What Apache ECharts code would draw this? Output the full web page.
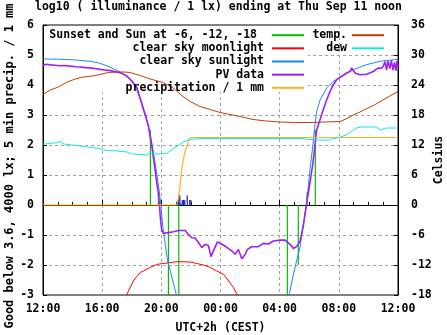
<!DOCTYPE html>
<html><head><meta charset="utf-8">
<script src="https://cdn.jsdelivr.net/npm/echarts@6/dist/echarts.min.js"></script>
<style>html,body{margin:0;padding:0;background:#fff}#c{width:447px;height:335px}</style>
</head><body><div id="c"></div>
<script>
// ---- data (x = hours after 12:00 on Sep 10, UTC+2h) ----
const xTickLabels = ['12:00','16:00','20:00','00:00','04:00','08:00','12:00'];
const twilightHours  = [7.26, 7.80, 8.48, 9.18, 16.52, 17.26, 17.85, 18.41];
const twilightLevels = [2.5, 0.42, -3.5, -3.5, -3.5, -2.0, 0.42, 2.5];
const moonData = [[5.58,-3.1],[5.67,-2.98],[6.11,-2.53],[6.57,-2.25],[6.79,-2.2],[7.24,-2.08],[7.7,-1.98],[8.12,-1.95],[8.59,-1.92],[9.05,-1.89],[9.47,-1.89],[9.95,-1.9],[10.4,-1.95],[10.85,-2.0],[11.3,-2.08],[11.75,-2.2],[12.2,-2.31],[12.51,-2.5],[12.87,-2.75],[13.1,-2.95],[13.15,-3.1]];
const sunData = [[0,4.87],[1.0,4.86],[2.06,4.84],[3.19,4.79],[3.8,4.73],[4.32,4.64],[4.99,4.49],[5.55,4.34],[6.01,4.12],[6.34,3.84],[6.68,3.4],[6.97,2.95],[7.24,2.4],[7.47,1.73],[7.65,1.18],[7.82,0.6],[7.97,0.0],[8.1,-0.72],[8.26,-1.3],[8.41,-1.83],[8.71,-2.4],[9.0,-2.96],[9.14,-3.2],[12,'-'],
  [16.5,-3.2],[16.66,-2.96],[16.89,-2.4],[17.16,-1.83],[17.38,-1.4],[17.58,-0.7],[17.83,0.09],[18.05,1.19],[18.24,1.97],[18.39,2.7],[18.52,3.15],[18.73,3.5],[19.18,3.9],[19.63,4.12],[20.3,4.34],[20.98,4.51],[21.88,4.68],[22.78,4.79],[23.68,4.84],[24,4.86]];
const pvData = [[0,4.66],[0.25,4.69],[0.49,4.67],[0.8,4.66],[1.16,4.64],[1.5,4.65],[1.84,4.63],[2.2,4.61],[2.51,4.6],[2.9,4.58],[3.19,4.57],[3.5,4.55],[3.86,4.52],[4.2,4.5],[4.54,4.48],[5.01,4.43],[5.35,4.38],[5.69,4.29],[6.03,4.12],[6.36,3.9],[6.57,3.55],[6.79,3.18],[6.97,2.9],[7.13,2.62],[7.36,1.95],[7.47,1.55],[7.58,1.17],[7.7,0.7],[7.8,0.41],[7.87,0.0],[7.95,-0.5],[8.03,-0.85],[8.14,-0.94],[8.48,-0.92],[8.82,-0.89],[9.16,-0.85],[9.61,-0.85],[9.83,-0.98],[10.06,-1.09],[10.28,-1.1],[10.51,-1.25],[10.74,-1.42],[10.96,-1.31],[11.18,-1.35],[11.36,-1.72],[11.52,-1.53],[11.79,-1.23],[12.09,-1.31],[12.43,-1.41],[12.76,-1.53],[12.99,-1.64],[13.21,-1.48],[13.44,-1.79],[13.66,-1.65],[13.82,-1.48],[14.11,-1.39],[14.56,-1.39],[14.9,-1.28],[15.24,-1.3],[15.57,-1.2],[16.03,-1.17],[16.36,-1.17],[16.48,-1.14],[16.7,-1.31],[16.93,-1.45],[17.16,-1.38],[17.38,-1.2],[17.6,-0.7],[17.83,0.08],[18.05,0.75],[18.25,1.4],[18.39,2.0],[18.5,2.5],[18.73,2.84],[18.95,3.18],[19.18,3.51],[19.41,3.79],[19.63,4.01],[19.86,4.18],[20.2,4.29],[20.53,4.4],[20.76,4.45],[20.87,4.57],[21.09,4.4],[21.43,4.34],[21.88,4.36],[22.33,4.45],[22.67,4.57],[22.85,4.55],[23.0,4.62],[23.12,4.78],[23.23,4.5],[23.32,4.8],[23.45,4.55],[23.55,4.82],[23.66,4.5],[23.76,4.75],[23.86,4.48],[23.93,4.8],[24,4.6]];
const precipCumData = [[0,0],[9.05,0],[9.16,0.25],[9.27,0.63],[9.38,1.19],[9.5,1.55],[9.61,1.8],[9.83,2.12],[9.95,2.25],[24,2.25]];
const precipBarData = [[9.083,0.15],[9.167,0.32],[9.25,0.32],[9.333,0.05],[9.417,0.17],[9.5,0.17],[9.583,0.17],[9.75,0.32],[9.917,0.17],[10.0,0.17]];
const tempData = [[0,22.1],[0.49,23.0],[1.03,23.6],[1.64,24.6],[2.18,25.2],[2.72,25.6],[3.32,25.8],[3.86,26.1],[4.41,26.5],[4.95,26.6],[5.49,26.6],[5.89,26.5],[6.57,25.9],[7.24,25.2],[8.12,24.5],[8.8,23.4],[9.47,21.7],[9.95,20.7],[10.62,19.7],[11.3,19.1],[11.97,18.5],[12.65,18.1],[13.32,17.7],[14.2,17.1],[15.1,16.8],[16.0,16.6],[17.0,16.5],[18.05,16.5],[19.07,16.6],[20.08,16.7],[20.55,17.3],[20.97,18.0],[21.43,18.6],[21.9,19.3],[22.4,20.0],[22.98,21.0],[23.45,21.8],[24,22.7]];
const dewData = [[0,12.2],[0.5,12.3],[1.0,12.5],[1.16,12.8],[1.3,12.3],[1.61,12.1],[2.3,11.9],[3.0,11.6],[3.86,11.3],[4.1,11.0],[4.99,10.8],[5.67,10.6],[6.0,10.2],[6.57,10.1],[7.0,10.0],[7.24,10.4],[7.7,10.2],[8.37,10.3],[8.82,11.3],[9.27,12.2],[9.6,12.8],[9.95,13.1],[10.6,13.3],[12,13.3],[15,13.3],[17.38,13.3],[17.42,13.0],[18.5,13.0],[19.3,13.0],[19.4,13.4],[20.1,13.6],[20.5,14.0],[20.9,14.8],[21.2,15.4],[21.5,15.6],[22.5,15.6],[22.8,15.0],[23.2,15.4],[24,15.4]];

// ---- build ----
const FONT = 'DejaVu Sans Mono';
const FS = 11.5;
const txt = {fontFamily: FONT, fontWeight: 'bold', fontSize: FS, color: '#000'};
const twilightData = [];
twilightHours.forEach((h, i) => { twilightData.push([h, 0], [h, twilightLevels[i]], [h, '-']); });

const chart = echarts.init(document.getElementById('c'), null, {renderer: 'canvas'});
const lineBase = {type: 'line', symbol: 'none', showSymbol: false, animation: false, connectNulls: false, clip: true};
const legendDefs = [
  ['Sunset and Sun at -6, -12, -18', 142, 0, 10],
  ['clear sky moonlight', 142, 1, 3],
  ['clear sky sunlight', 142, 2, 3],
  ['PV data', 142, 3, 3],
  ['precipitation / 1 mm', 142, 4, 3],
  ['temp.', 62, 0, 0],
  ['dew', 62, 1, 0]
];
const legends = legendDefs.map(d => ({
  data: [d[0]], right: d[1], top: 34.7 + 13.15 * d[2] - 7 + 1.5, orient: 'horizontal', align: 'right',
  itemWidth: 32, itemHeight: 14, padding: 0, selectedMode: false,
  itemStyle: {opacity: 0, borderWidth: 0},
  textStyle: Object.assign({}, txt, {padding: [0, d[3], 0, 0]})
}));

chart.setOption({
  animation: false,
  backgroundColor: '#fff',
  title: {text: 'log10 ( illuminance / 1 lx) ending at Thu Sep 11 noon', left: 35, top: 1, padding: 0,
    textStyle: txt},
  legend: legends,
  grid: {left: 43, right: 49, top: 25, bottom: 40, show: true, borderColor: '#000', borderWidth: 1, outerBoundsMode: 'none'},
  graphic: {elements: [{type: 'rect', z: 1, silent: true, shape: {x: 44, y: 26, width: 264, height: 66}, style: {fill: '#fff'}}]},
  xAxis: {type: 'value', min: 0, max: 24, interval: 4,
    axisLine: {show: true, lineStyle: {color: '#000'}},
    axisTick: {show: true, inside: true, length: 5, lineStyle: {color: '#000'}},
    minorTick: {show: true, splitNumber: 4, length: 3, lineStyle: {color: '#000'}},
    axisLabel: Object.assign({}, txt, {margin: 8, formatter: v => xTickLabels[Math.round(v / 4)]}),
    splitLine: {show: true, showMinLine: false, showMaxLine: false, lineStyle: {color: '#a0a0a0', type: [3, 3], width: 1}},
    name: 'UTC+2h (CEST)', nameLocation: 'middle', nameGap: 27, nameMoveOverlap: false, nameTextStyle: txt},
  yAxis: [
    {type: 'value', min: -3, max: 6, interval: 1, position: 'left',
      axisLine: {show: true, lineStyle: {color: '#000'}},
      axisTick: {show: true, inside: true, length: 4, lineStyle: {color: '#000'}},
      axisLabel: Object.assign({}, txt, {margin: 9}),
      splitLine: {show: true, showMinLine: false, showMaxLine: false, lineStyle: {color: '#a0a0a0', type: [3, 3], width: 1}},
      name: 'Good below 3.6, 4000 lx; 5 min precip. / 1 mm', nameLocation: 'middle', nameGap: 27, nameMoveOverlap: false,
      nameTextStyle: Object.assign({}, txt, {fontSize: 12, padding: [0, 12, 0, 0]})},
    {type: 'value', min: -18, max: 36, interval: 6, position: 'right',
      axisLine: {show: true, lineStyle: {color: '#000'}},
      axisTick: {show: true, inside: true, length: 4, lineStyle: {color: '#000'}},
      axisLabel: Object.assign({}, txt, {margin: 13}),
      splitLine: {show: false},
      name: 'Celsius', nameLocation: 'middle', nameGap: 35, nameMoveOverlap: false, nameTextStyle: txt}
  ],
  series: [
    Object.assign({}, lineBase, {name: 'Sunset and Sun at -6, -12, -18', data: twilightData, lineStyle: {color: '#00c000', width: 1.2}, itemStyle: {color: '#00c000'}}),
    Object.assign({}, lineBase, {name: 'clear sky moonlight', data: moonData, lineStyle: {color: '#ff0000', width: 1}, itemStyle: {color: '#ff0000'}}),
    Object.assign({}, lineBase, {name: 'clear sky sunlight', data: sunData, lineStyle: {color: '#1e88f0', width: 1}, itemStyle: {color: '#1e88f0'}}),
    Object.assign({}, lineBase, {name: 'PV data', data: pvData, lineStyle: {color: '#a020f0', width: 1.6}, itemStyle: {color: '#a020f0'}}),
    Object.assign({}, lineBase, {name: 'precipitation / 1 mm', data: precipCumData, lineStyle: {color: '#ffb020', width: 1.2}, itemStyle: {color: '#ffb020'}}),
    {type: 'custom', name: 'precipitation per 5 min', data: precipBarData, encode: {x: 0, y: 1}, animation: false, clip: true,
      itemStyle: {color: '#2424c8'},
      renderItem: (params, api) => {
        const t = api.value(0), v = api.value(1);
        const p0 = api.coord([t - 1 / 24, 0]);
        const p1 = api.coord([t + 1 / 24, v]);
        return {type: 'rect', shape: {x: p0[0], y: p1[1], width: p1[0] - p0[0], height: p0[1] - p1[1]}, style: {fill: '#2424c8'}};
      }},
    Object.assign({}, lineBase, {name: 'temp.', yAxisIndex: 1, data: tempData, lineStyle: {color: '#c04000', width: 1}, itemStyle: {color: '#c04000'}}),
    Object.assign({}, lineBase, {name: 'dew', yAxisIndex: 1, data: dewData, lineStyle: {color: '#10e8e8', width: 1}, itemStyle: {color: '#10e8e8'}})
  ]
});
</script></body></html>
